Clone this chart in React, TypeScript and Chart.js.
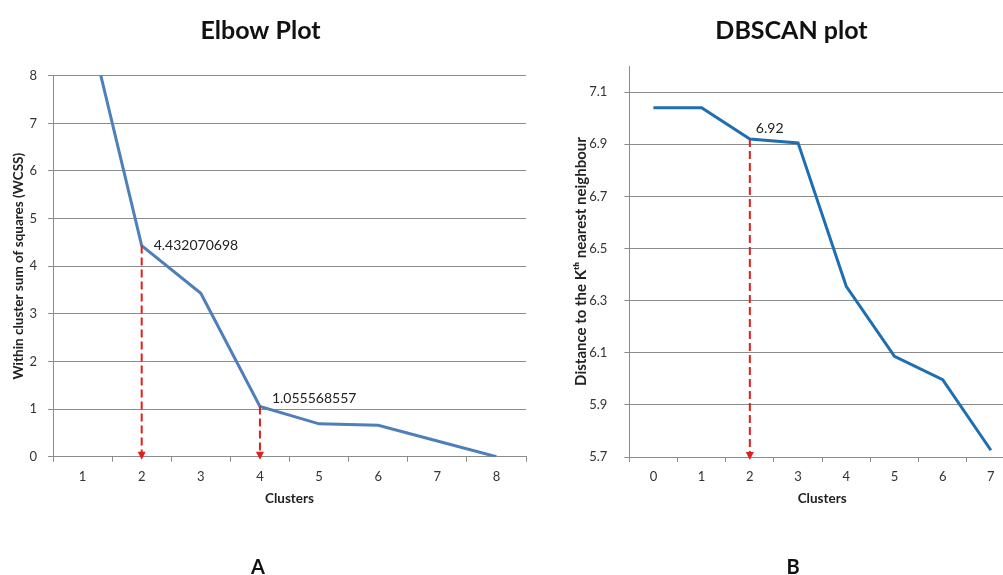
import React, { useEffect, useRef } from "react";
import { Chart, registerables } from "chart.js";

Chart.register(...registerables);

// ---------- Data ----------
const elbowClusters = ["1", "2", "3", "4", "5", "6", "7", "8"];
const elbowWcss = [9.6, 4.432070698, 3.43, 1.055568557, 0.69, 0.66, 0.33, 0.0];
const elbowYTicks = [0, 1, 2, 3, 4, 5, 6, 7, 8];
const elbowMarked = [1, 3];

const dbClusters = ["0", "1", "2", "3", "4", "5", "6", "7"];
const dbDistance = [7.04, 7.04, 6.92, 6.905, 6.355, 6.086, 5.997, 5.726];
const dbYTicks = [5.7, 5.9, 6.1, 6.3, 6.5, 6.7, 6.9, 7.1];
const dbMarked = [2];

// ---------- Styles ----------
const FONT = "Lato, 'Open Sans', sans-serif";
const GRID = "#8c8c8c";
const TICK = "#333333";
const RED = "#e0201c";

const markerPlugin = {
  id: "markers",
  afterDatasetsDraw(chart: any, _args: any, opts: any) {
    const { ctx, scales, chartArea } = chart;
    const x = scales.x;
    const y = scales.y;
    const data = chart.data.datasets[0].data as number[];
    (opts.indices as number[]).forEach((i, k) => {
      const px = x.getPixelForValue(i);
      const py = y.getPixelForValue(data[i]);
      const bottom = chartArea.bottom + 3;
      ctx.save();
      ctx.strokeStyle = RED;
      ctx.fillStyle = RED;
      ctx.lineWidth = 2;
      ctx.setLineDash([8, 4]);
      ctx.beginPath();
      ctx.moveTo(px, py);
      ctx.lineTo(px, bottom - 7);
      ctx.stroke();
      ctx.setLineDash([]);
      ctx.beginPath();
      ctx.moveTo(px - 4, bottom - 8);
      ctx.lineTo(px + 4, bottom - 8);
      ctx.lineTo(px, bottom);
      ctx.closePath();
      ctx.fill();
      const off = opts.offsets[k];
      ctx.font = `14px ${FONT}`;
      ctx.fillStyle = "#222";
      ctx.textAlign = "left";
      ctx.textBaseline = "middle";
      ctx.fillText(String(data[i]), px + off[0], py + off[1]);
      ctx.restore();
    });
  },
};

const textPlugin = {
  id: "texts",
  afterDraw(chart: any, _args: any, opts: any) {
    const { ctx } = chart;
    ctx.save();
    for (const t of opts.items) {
      ctx.font = t.font;
      ctx.fillStyle = "#111";
      ctx.textAlign = "center";
      ctx.textBaseline = "alphabetic";
      ctx.fillText(t.text, t.x, t.y);
    }
    ctx.restore();
  },
};

function makeConfig(p: {
  labels: string[];
  values: number[];
  color: string;
  yMin: number;
  yMax: number;
  yTicks: number[];
  yTitle: string;
  yTitleSize: number;
  yWidth: number;
  yTickPad: number;
  yTitlePad: number;
  padding: any;
  marked: number[];
  offsets: number[][];
  texts: any[];
  tickFmt: (v: number) => string;
}): any {
  return {
    type: "line",
    data: {
      labels: p.labels,
      datasets: [
        {
          data: p.values,
          borderColor: p.color,
          borderWidth: 3,
          pointRadius: 0,
          tension: 0,
          fill: false,
        },
      ],
    },
    options: {
      responsive: false,
      animation: false,
      devicePixelRatio: 1,
      layout: { padding: p.padding },
      plugins: {
        legend: { display: false },
        tooltip: { enabled: false },
        title: { display: false },
        markers: { indices: p.marked, offsets: p.offsets },
        texts: { items: p.texts },
      },
      scales: {
        x: {
          type: "category",
          offset: true,
          grid: {
            display: true,
            drawOnChartArea: false,
            drawTicks: true,
            tickLength: 5,
            offset: true,
            color: GRID,
          },
          border: { display: true, color: GRID, width: 1 },
          ticks: {
            color: TICK,
            font: { family: FONT, size: 13 },
            padding: 7.5,
            maxRotation: 0,
            autoSkip: false,
          },
          title: {
            display: true,
            text: "Clusters",
            color: "#222",
            font: { family: FONT, size: 13.5, weight: "bold" },
            padding: { top: 0, bottom: 0 },
          },
          afterFit: (s: any) => {
            s.height = 50;
          },
        },
        y: {
          min: p.yMin,
          max: p.yMax,
          afterBuildTicks: (s: any) => {
            s.ticks = p.yTicks.map((v) => ({ value: v }));
          },
          grid: { color: GRID, drawTicks: true, tickLength: 5 },
          border: { display: true, color: GRID, width: 1 },
          ticks: {
            color: TICK,
            font: { family: FONT, size: 13 },
            padding: p.yTickPad,
            callback: (v: any) => p.tickFmt(Number(v)),
          },
          title: {
            display: true,
            text: p.yTitle,
            color: "#222",
            font: { family: FONT, size: p.yTitleSize, weight: "bold" },
            padding: { top: p.yTitlePad, bottom: 0 },
          },
          afterFit: (s: any) => {
            s.width = p.yWidth;
          },
        },
      },
    },
    plugins: [markerPlugin, textPlugin],
  };
}

export default function App() {
  const leftRef = useRef<HTMLCanvasElement | null>(null);
  const rightRef = useRef<HTMLCanvasElement | null>(null);

  useEffect(() => {
    const left = new Chart(
      leftRef.current as HTMLCanvasElement,
      makeConfig({
        labels: elbowClusters,
        values: elbowWcss,
        color: "#4f7fba",
        yMin: 0,
        yMax: 8,
        yTicks: elbowYTicks,
        yTitle: "Within cluster sum of squares (WCSS)",
        yTitleSize: 13.5,
        yWidth: 53,
        yTickPad: 11,
        yTitlePad: 10.5,
        padding: { left: 0, right: 34, top: 75.7, bottom: 68.3 },
        marked: elbowMarked,
        offsets: [
          [12, 0],
          [12, -8],
        ],
        texts: [
          { text: "Elbow Plot", x: 260.5, y: 39, font: `bold 25px ${FONT}` },
          { text: "A", x: 258, y: 574, font: `bold 20px ${FONT}` },
        ],
        tickFmt: (v) => String(v),
      })
    );
    const right = new Chart(
      rightRef.current as HTMLCanvasElement,
      makeConfig({
        labels: dbClusters,
        values: dbDistance,
        color: "#1f6fb0",
        yMin: 5.7,
        yMax: 7.2,
        yTicks: dbYTicks,
        yTitle: "Distance to the K\u1d57\u02b0 nearest neighbour",
        yTitleSize: 15,
        yWidth: 69.3,
        yTickPad: 17,
        yTitlePad: 12,
        padding: { left: 0, right: 25, top: 66, bottom: 68 },
        marked: dbMarked,
        offsets: [[6, -11]],
        texts: [
          { text: "DBSCAN plot", x: 231.5, y: 39, font: `bold 25px ${FONT}` },
          { text: "B", x: 233, y: 574, font: `bold 20px ${FONT}` },
        ],
        tickFmt: (v) => v.toFixed(1),
      })
    );
    return () => {
      left.destroy();
      right.destroy();
    };
  }, []);

  return (
    <div
      style={{
        position: "absolute",
        left: 0,
        top: 0,
        width: 1003,
        height: 575,
        overflow: "hidden",
        background: "#ffffff",
      }}
    >
      <canvas
        ref={leftRef}
        width={560}
        height={575}
        style={{ position: "absolute", left: 0, top: 0, width: 560, height: 575 }}
      />
      <canvas
        ref={rightRef}
        width={480}
        height={575}
        style={{ position: "absolute", left: 560, top: 0, width: 480, height: 575 }}
      />
    </div>
  );
}
